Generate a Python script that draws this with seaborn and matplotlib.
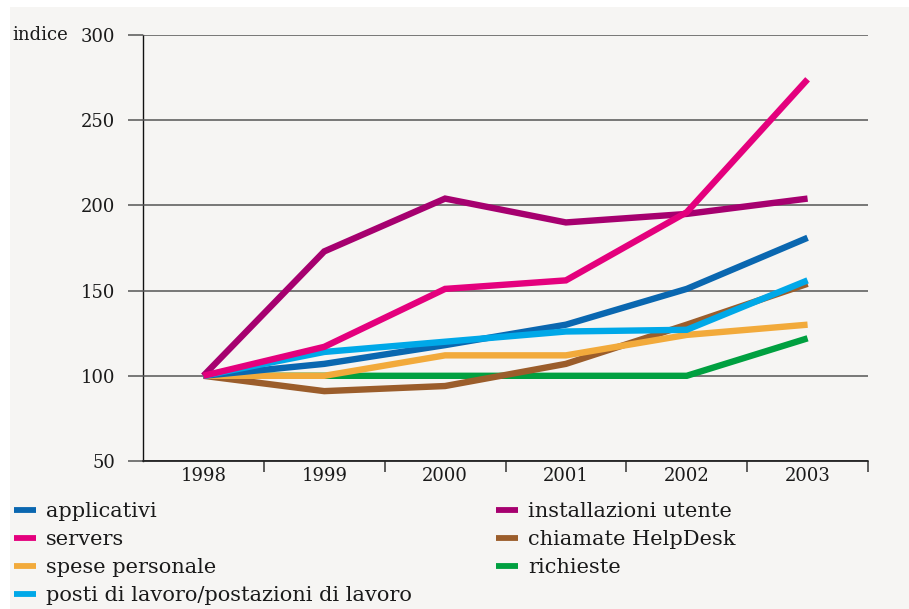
import matplotlib
matplotlib.use("Agg")
import matplotlib.pyplot as plt
import seaborn as sns
import pandas as pd

years = ["1998", "1999", "2000", "2001", "2002", "2003"]

applicativi = [100, 107, 118, 130, 151, 181]
servers = [100, 117, 151, 156, 196, 274]
spese_personale = [100, 100, 112, 112, 124, 130]
posti_lavoro = [100, 114, 120, 126, 127, 156]
installazioni_utente = [100, 173, 204, 190, 195, 204]
chiamate_helpdesk = [100, 91, 94, 107, 130, 154]
richieste = [100, 100, 100, 100, 100, 122]

series = {
    "applicativi": applicativi,
    "servers": servers,
    "spese personale": spese_personale,
    "posti di lavoro/postazioni di lavoro": posti_lavoro,
    "installazioni utente": installazioni_utente,
    "chiamate HelpDesk": chiamate_helpdesk,
    "richieste": richieste,
}

colors = {
    "applicativi": "#0a67b0",
    "servers": "#e4007d",
    "spese personale": "#f2aa3b",
    "posti di lavoro/postazioni di lavoro": "#00a8e8",
    "installazioni utente": "#a6006f",
    "chiamate HelpDesk": "#9b5d2b",
    "richieste": "#00a040",
}

# order in which the lines are stacked (last on top)
draw_order = [
    "richieste", "chiamate HelpDesk", "spese personale", "applicativi",
    "posti di lavoro/postazioni di lavoro", "installazioni utente", "servers",
]
left_col = ["applicativi", "servers", "spese personale",
            "posti di lavoro/postazioni di lavoro"]
right_col = ["installazioni utente", "chiamate HelpDesk", "richieste"]

rows = []
for name, vals in series.items():
    for i, v in enumerate(vals):
        rows.append({"pos": i, "anno": years[i], "serie": name, "indice": v})
df = pd.DataFrame(rows)

bg = "#f6f5f3"
sns.set_theme(style="white")
plt.rcParams["font.family"] = ["DejaVu Serif"]

W, H = 909, 609
fig = plt.figure(figsize=(W / 100, H / 100), dpi=100, facecolor="white")
# light panel with a thin white margin on top and left
fig.patches.append(plt.Rectangle((10 / W, 0), 1, 1 - 7 / H, transform=fig.transFigure,
                                 facecolor=bg, edgecolor="none", zorder=-10))

ax = fig.add_axes([143 / W, 1 - 461 / H, (868 - 143) / W, (461 - 35) / H])
ax.set_facecolor("none")

sns.lineplot(data=df, x="pos", y="indice", hue="serie", hue_order=draw_order,
             palette=colors, linewidth=4.6, ax=ax, legend=True, sort=False)
for ln in ax.get_lines():
    ln.set_solid_capstyle("butt")
    ln.set_solid_joinstyle("miter")

handles, labels = ax.get_legend_handles_labels()
hmap = dict(zip(labels, handles))
ax.get_legend().remove()

ax.set_xlim(-0.5, 5.5)
ax.set_ylim(50, 300)
ax.set_xticks(range(6))
ax.set_xticklabels(years)
ax.set_xticks([0.5, 1.5, 2.5, 3.5, 4.5, 5.5], minor=True)
ax.set_yticks([50, 100, 150, 200, 250, 300])
ax.set_xlabel("")
ax.set_ylabel("")

ax.tick_params(axis="x", which="major", length=0, pad=4, labelsize=13, labelcolor="#1a1a1a")
ax.tick_params(axis="x", which="minor", direction="out", length=8, width=1.1,
               color="#333333", bottom=True)
ax.tick_params(axis="y", length=11, width=1.1, color="#555555", pad=9,
               labelsize=13, labelcolor="#1a1a1a", left=True)

ax.grid(axis="y", color="#555555", linewidth=1.1)
ax.grid(axis="x", visible=False)
ax.set_axisbelow(True)
for side in ["top", "right", "bottom"]:
    ax.spines[side].set_visible(False)
ax.spines["left"].set_color("#111111")
ax.spines["left"].set_linewidth(1.0)
ax.spines["left"].set_zorder(0.5)
# stronger baseline at 50
ax.axhline(50, color="#222222", linewidth=1.3, zorder=0.6, clip_on=False)

fig.text(12 / W, 1 - 35 / H, "indice", fontsize=13, va="center", ha="left", color="#1a1a1a")

leg_kw = dict(frameon=False, fontsize=15, handlelength=1.06, handletextpad=0.48,
              labelspacing=0.43, borderpad=0, borderaxespad=0, loc="upper left",
              labelcolor="#1a1a1a")
leg1 = fig.legend([hmap[k] for k in left_col], left_col,
                  bbox_to_anchor=(14 / W, 1 - 502 / H), **leg_kw)
leg2 = fig.legend([hmap[k] for k in right_col], right_col,
                  bbox_to_anchor=(496 / W, 1 - 502 / H), **leg_kw)
for leg in (leg1, leg2):
    for h in leg.legend_handles:
        h.set_linewidth(4.2)
        h.set_solid_capstyle("butt")

fig.savefig("out.png", dpi=100, facecolor="white")
